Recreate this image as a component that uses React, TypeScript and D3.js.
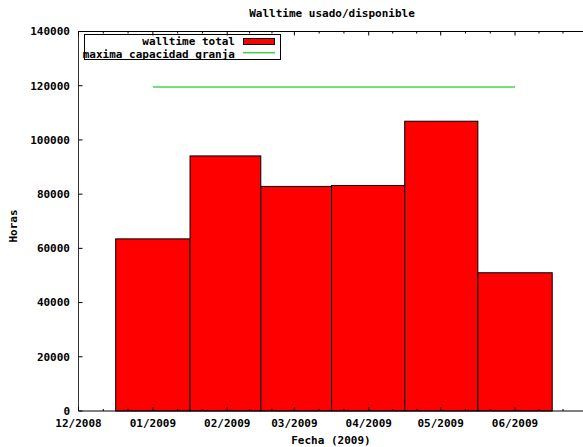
import React from "react";
import * as d3 from "d3";

const months: string[] = ["2009-01-01", "2009-02-01", "2009-03-01", "2009-04-01", "2009-05-01", "2009-06-01"];
const walltime: number[] = [63500, 94100, 82850, 83200, 106900, 51000];
const capacity: number[] = [119500, 119500, 119500, 119500, 119500, 119500];
const yTicks: number[] = [0, 20000, 40000, 60000, 80000, 100000, 120000, 140000];

const W = 583;
const H = 447;
const FONT = "'DejaVu Sans Mono', monospace";

export default function App() {
  const dates = months.map((m) => new Date(m + "T00:00:00Z"));
  const x = d3
    .scaleUtc()
    .domain([new Date(Date.UTC(2008, 11, 1)), new Date(Date.UTC(2009, 6, 1))])
    .range([78.5, 587]);
  const y = d3.scaleLinear().domain([0, 140000]).range([411, 31.5]);
  const [x0, x1] = x.range();
  const [yb, yt] = y.range();

  const centers = dates.map((d) => x(d));
  const edges: number[] = [];
  for (let i = 0; i <= centers.length; i++) {
    if (i === 0) edges.push(centers[0] - (centers[1] - centers[0]) / 2);
    else if (i === centers.length)
      edges.push(centers[i - 1] + (centers[i - 1] - centers[i - 2]) / 2);
    else edges.push((centers[i - 1] + centers[i]) / 2);
  }

  const majors = d3.utcMonth.range(x.domain()[0], new Date(Date.UTC(2009, 6, 2)));
  const minors: number[] = [];
  for (let i = 0; i < majors.length - 1; i++) {
    const a = x(majors[i]);
    const b = x(majors[i + 1]);
    minors.push(a + (b - a) / 3, a + (2 * (b - a)) / 3);
  }
  const fmt = d3.utcFormat("%m/%Y");
  const line = d3
    .line<number>()
    .x((_, i) => centers[i])
    .y((v) => y(v));

  const txt = { fontFamily: FONT, fontSize: 11, fontWeight: "bold" as const, fill: "#000" };

  return (
    <svg
      width={W}
      height={H}
      style={{ position: "absolute", left: 0, top: 0, background: "#fff" }}
    >
      <rect x={0} y={0} width={W} height={H} fill="#fff" />
      {/* bars */}
      {walltime.map((v, i) => (
        <rect
          key={i}
          x={edges[i]}
          y={y(v)}
          width={edges[i + 1] - edges[i]}
          height={yb - y(v)}
          fill="#ff0000"
          stroke="#000"
          strokeWidth={1}
        />
      ))}
      {/* capacity line */}
      <path d={line(capacity) || ""} fill="none" stroke="#4cd04c" strokeWidth={1.6} />
      {/* border */}
      <line x1={x0} y1={yt} x2={x1} y2={yt} stroke="#000" strokeWidth={1} />
      <line x1={x0} y1={yb} x2={x1} y2={yb} stroke="#000" strokeWidth={1} />
      <line x1={x0} y1={yt} x2={x0} y2={yb} stroke="#333" strokeWidth={1} />
      <line x1={x1} y1={yt} x2={x1} y2={yb} stroke="#000" strokeWidth={1} />
      {/* y ticks */}
      {yTicks.map((t) => (
        <g key={t}>
          <line x1={x0} x2={x0 + 4} y1={y(t)} y2={y(t)} stroke="#000" />
          <line x1={x1} x2={x1 - 4} y1={y(t)} y2={y(t)} stroke="#000" />
          <text x={70} y={y(t)} dy="0.35em" textAnchor="end" {...txt}>
            {t}
          </text>
        </g>
      ))}
      {/* x ticks */}
      {majors.map((m, i) => (
        <g key={i}>
          <line x1={x(m)} x2={x(m)} y1={yb} y2={yb - 4} stroke="#000" />
          <line x1={x(m)} x2={x(m)} y1={yt} y2={yt + 4} stroke="#000" />
          {x(m) < W && (
            <text x={x(m)} y={427} textAnchor="middle" {...txt}>
              {fmt(m)}
            </text>
          )}
        </g>
      ))}
      {minors.map((p, i) => (
        <g key={"m" + i}>
          <line x1={p} x2={p} y1={yb} y2={yb - 2} stroke="#000" />
          <line x1={p} x2={p} y1={yt} y2={yt + 2} stroke="#000" />
        </g>
      ))}
      {/* title & labels */}
      <text x={332} y={17} textAnchor="middle" {...txt}>
        Walltime usado/disponible
      </text>
      <text x={331} y={444} textAnchor="middle" {...txt}>
        Fecha (2009)
      </text>
      <text
        transform="translate(17,226) rotate(-90)"
        textAnchor="middle"
        {...txt}
      >
        Horas
      </text>
      {/* legend */}
      <rect x={84.5} y={34.5} width={196} height={25} fill="none" stroke="#000" strokeWidth={1} />
      <text x={235} y={44.8} textAnchor="end" {...txt}>
        walltime total
      </text>
      <rect x={243.5} y={38.5} width={31} height={6} fill="#ff0000" stroke="#000" strokeWidth={1} />
      <text x={235} y={57.6} textAnchor="end" {...txt}>
        maxima capacidad granja
      </text>
      <line x1={243} x2={275} y1={52.7} y2={52.7} stroke="#4cd04c" strokeWidth={1.6} />
    </svg>
  );
}
